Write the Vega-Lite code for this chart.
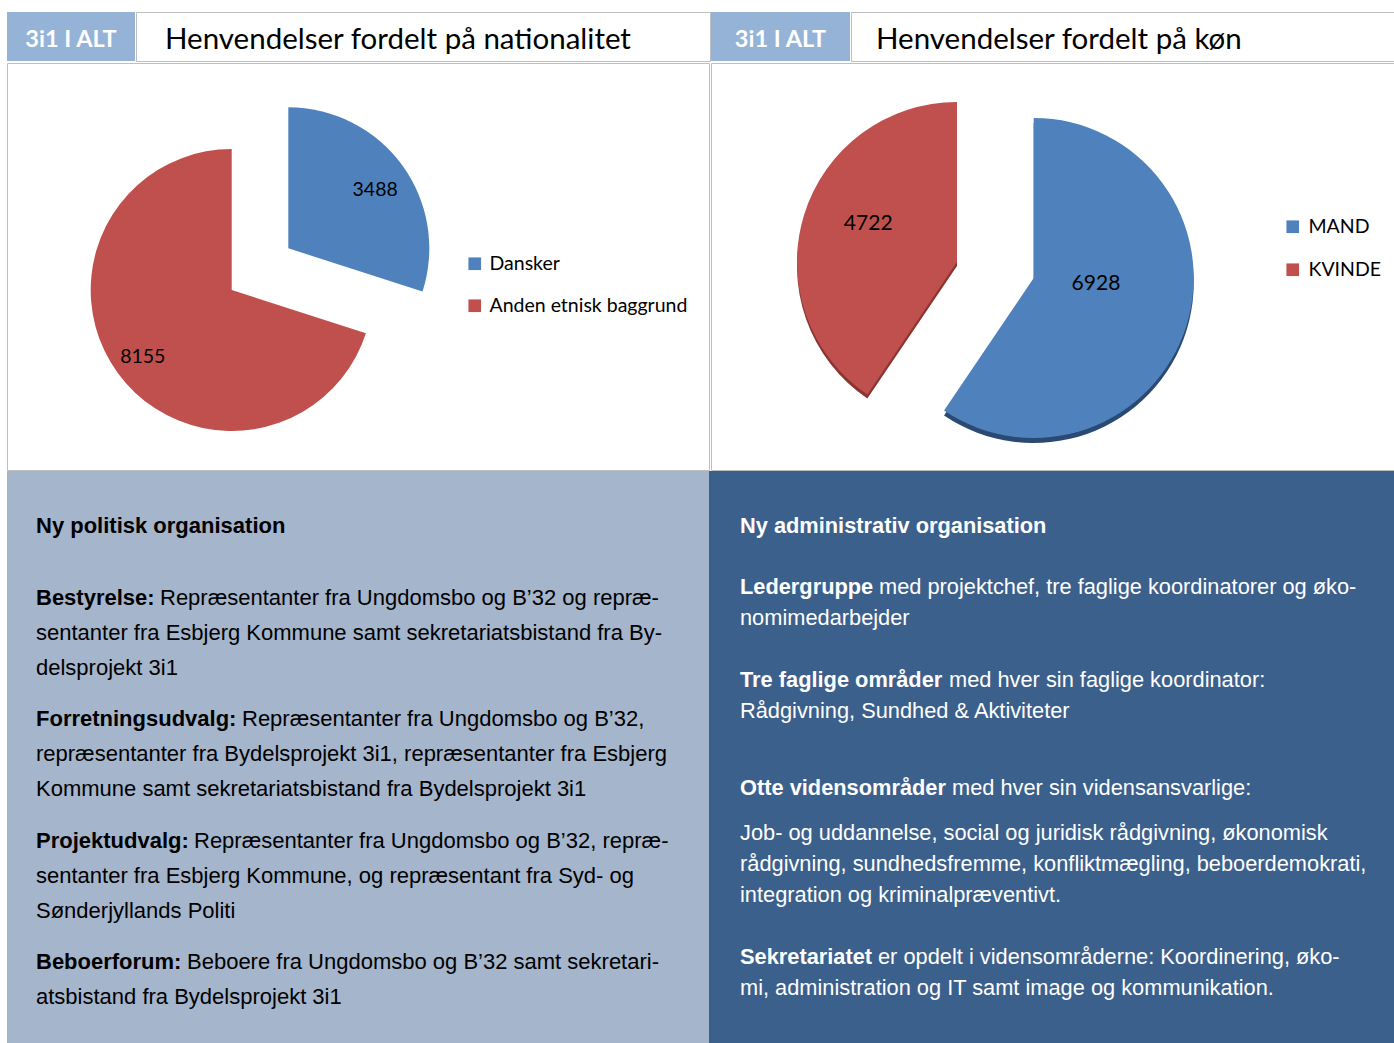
{
  "$schema": "https://vega.github.io/schema/vega-lite/v6.json",
  "background": "white",
  "padding": {"left": 6, "top": 11, "right": 0, "bottom": 0},
  "spacing": 0,
  "config": {"view": {"stroke": null}, "font": "Lato", "concat": {"spacing": 0}},
  "vconcat": [
    {
      "spacing": 0,
      "hconcat": [
        {
          "width": 128, "height": 49,
          "view": {"fill": "#95b3d7", "stroke": null},
          "data": {"values": [{"label": "3i1 I ALT"}]},
          "mark": {"type": "text", "x": 64, "y": 28, "align": "center", "baseline": "middle", "font": "Lato", "fontWeight": "bold", "fontSize": 23.5, "color": "white"},
          "encoding": {"text": {"field": "label"}}
        },
        {
          "width": 574, "height": 49,
          "view": {"fill": "white", "stroke": "#bfbfbf"},
          "data": {"values": [{"title": "Henvendelser fordelt på nationalitet"}]},
          "mark": {"type": "text", "x": 29, "y": 28, "align": "left", "baseline": "middle", "font": "Lato", "fontSize": 29.5, "color": "black"},
          "encoding": {"text": {"field": "title"}}
        },
        {
          "width": 139, "height": 49,
          "view": {"fill": "#95b3d7", "stroke": null},
          "data": {"values": [{"label": "3i1 I ALT"}]},
          "mark": {"type": "text", "x": 69.5, "y": 28, "align": "center", "baseline": "middle", "font": "Lato", "fontWeight": "bold", "fontSize": 23.5, "color": "white"},
          "encoding": {"text": {"field": "label"}}
        },
        {
          "width": 546, "height": 49,
          "view": {"fill": "white", "stroke": "#bfbfbf"},
          "data": {"values": [{"title": "Henvendelser fordelt på køn"}]},
          "mark": {"type": "text", "x": 25, "y": 28, "align": "left", "baseline": "middle", "font": "Lato", "fontSize": 29.5, "color": "black"},
          "encoding": {"text": {"field": "title"}}
        }
      ]
    },
    {
      "spacing": 0,
      "resolve": {"scale": {"color": "independent", "theta": "independent"}, "legend": {"color": "independent"}},
      "hconcat": [
        {
          "width": 702, "height": 407,
          "view": {"fill": "white", "stroke": "#bfbfbf"},
          "data": {"values": [
            {"gruppe": "Dansker", "antal": 3488},
            {"gruppe": "Anden etnisk baggrund", "antal": 8155}
          ]},
          "encoding": {
            "theta": {"field": "antal", "type": "quantitative", "stack": true},
            "order": {"field": "gruppe", "sort": "descending"},
            "color": {
              "field": "gruppe", "type": "nominal",
              "scale": {"domain": ["Dansker", "Anden etnisk baggrund"], "range": ["#4f81bd", "#c0504d"]},
              "legend": {"orient": "none", "legendX": 458, "legendY": 191, "title": null, "symbolType": "square", "symbolSize": 160, "symbolStrokeWidth": 0, "labelFont": "Lato", "labelFontSize": 19.5, "labelColor": "black", "labelOffset": 5, "labelLimit": 400, "rowPadding": 21, "padding": 0}
            }
          },
          "layer": [
            {
              "mark": {"type": "arc", "x": 281.3, "y": 185.3, "radius": 141},
              "encoding": {"opacity": {"condition": {"test": "datum.gruppe === 'Dansker'", "value": 1}, "value": 0}}
            },
            {
              "mark": {"type": "arc", "x": 224.7, "y": 227, "radius": 141},
              "encoding": {"opacity": {"condition": {"test": "datum.gruppe !== 'Dansker'", "value": 1}, "value": 0}}
            },
            {
              "mark": {"type": "text", "x": 281.3, "y": 185.3, "radius": 105, "dx": 2, "dy": 4, "font": "Lato", "fontSize": 19.5, "align": "center", "baseline": "middle"},
              "encoding": {
                "text": {"field": "antal", "type": "quantitative", "format": "d"},
                "color": {"value": "black"},
                "opacity": {"condition": {"test": "datum.gruppe === 'Dansker'", "value": 1}, "value": 0}
              }
            },
            {
              "mark": {"type": "text", "x": 224.7, "y": 227, "radius": 110, "dy": 2, "font": "Lato", "fontSize": 19.5, "align": "center", "baseline": "middle"},
              "encoding": {
                "text": {"field": "antal", "type": "quantitative", "format": "d"},
                "color": {"value": "black"},
                "opacity": {"condition": {"test": "datum.gruppe !== 'Dansker'", "value": 1}, "value": 0}
              }
            }
          ]
        },
        {
          "width": 685, "height": 407,
          "view": {"fill": "white", "stroke": "#bfbfbf"},
          "data": {"values": [
            {"koen": "MAND", "antal": 6928},
            {"koen": "KVINDE", "antal": 4722}
          ]},
          "encoding": {
            "theta": {"field": "antal", "type": "quantitative", "stack": true},
            "order": {"field": "koen", "sort": "descending"},
            "color": {
              "field": "koen", "type": "nominal",
              "scale": {"domain": ["MAND", "KVINDE"], "range": ["#4f81bd", "#c0504d"]},
              "legend": {"orient": "none", "legendX": 572, "legendY": 154, "title": null, "symbolType": "square", "symbolSize": 160, "symbolStrokeWidth": 0, "labelFont": "Lato", "labelFontSize": 19.5, "labelColor": "black", "labelOffset": 6, "labelLimit": 300, "rowPadding": 22, "padding": 0}
            }
          },
          "layer": [
            {
              "mark": {"type": "arc", "x": 322.7, "y": 220, "radius": 160},
              "encoding": {
                "color": {"value": "#2a4a74"},
                "opacity": {"condition": {"test": "datum.koen === 'MAND'", "value": 1}, "value": 0}
              }
            },
            {
              "mark": {"type": "arc", "x": 246, "y": 203, "radius": 160},
              "encoding": {
                "color": {"value": "#8a3532"},
                "opacity": {"condition": {"test": "datum.koen !== 'MAND'", "value": 1}, "value": 0}
              }
            },
            {
              "mark": {"type": "arc", "x": 322.7, "y": 215, "radius": 160},
              "encoding": {"opacity": {"condition": {"test": "datum.koen === 'MAND'", "value": 1}, "value": 0}}
            },
            {
              "mark": {"type": "arc", "x": 246, "y": 199, "radius": 160},
              "encoding": {"opacity": {"condition": {"test": "datum.koen !== 'MAND'", "value": 1}, "value": 0}}
            },
            {
              "mark": {"type": "text", "x": 322.7, "y": 215, "radius": 62, "dx": 3, "dy": -12, "font": "Lato", "fontSize": 21, "align": "center", "baseline": "middle"},
              "encoding": {
                "text": {"field": "antal", "type": "quantitative", "format": "d"},
                "color": {"value": "black"},
                "opacity": {"condition": {"test": "datum.koen === 'MAND'", "value": 1}, "value": 0}
              }
            },
            {
              "mark": {"type": "text", "x": 246, "y": 199, "radius": 96, "dx": 3, "dy": -10, "font": "Lato", "fontSize": 21, "align": "center", "baseline": "middle"},
              "encoding": {
                "text": {"field": "antal", "type": "quantitative", "format": "d"},
                "color": {"value": "black"},
                "opacity": {"condition": {"test": "datum.koen !== 'MAND'", "value": 1}, "value": 0}
              }
            }
          ]
        }
      ]
    },
    {
      "spacing": 0,
      "resolve": {"scale": {"x": "independent", "y": "independent"}},
      "hconcat": [
        {
          "width": 702, "height": 573,
          "view": {"fill": "#a5b5cb", "stroke": null},
          "data": {"values": [
            {"row": 0, "para": 0, "kind": "head", "text": "Ny politisk organisation"},
            {"row": 1, "para": 1, "kind": "lead", "text": "Bestyrelse:"},
            {"row": 1, "para": 1, "kind": "first", "text": "Repræsentanter fra Ungdomsbo og B’32 og repræ-"},
            {"row": 2, "para": 1, "kind": "cont", "text": "sentanter fra Esbjerg Kommune samt sekretariatsbistand fra By-"},
            {"row": 3, "para": 1, "kind": "cont", "text": "delsprojekt 3i1"},
            {"row": 4, "para": 2, "kind": "lead", "text": "Forretningsudvalg:"},
            {"row": 4, "para": 2, "kind": "first", "text": "Repræsentanter fra Ungdomsbo og B’32,"},
            {"row": 5, "para": 2, "kind": "cont", "text": "repræsentanter fra Bydelsprojekt 3i1, repræsentanter fra Esbjerg"},
            {"row": 6, "para": 2, "kind": "cont", "text": "Kommune samt sekretariatsbistand fra Bydelsprojekt 3i1"},
            {"row": 7, "para": 3, "kind": "lead", "text": "Projektudvalg:"},
            {"row": 7, "para": 3, "kind": "first", "text": "Repræsentanter fra Ungdomsbo og B’32, repræ-"},
            {"row": 8, "para": 3, "kind": "cont", "text": "sentanter fra Esbjerg Kommune, og repræsentant fra Syd- og"},
            {"row": 9, "para": 3, "kind": "cont", "text": "Sønderjyllands Politi"},
            {"row": 10, "para": 4, "kind": "lead", "text": "Beboerforum:"},
            {"row": 10, "para": 4, "kind": "first", "text": "Beboere fra Ungdomsbo og B’32 samt sekretari-"},
            {"row": 11, "para": 4, "kind": "cont", "text": "atsbistand fra Bydelsprojekt 3i1"}
          ]},
          "encoding": {
            "y": {"field": "row", "type": "quantitative", "axis": null,
                  "scale": {"domain": [0, 1, 2, 3, 4, 5, 6, 7, 8, 9, 10, 11], "range": [55, 127, 162, 197, 248, 283, 318, 370, 405, 440, 491, 526], "nice": false, "zero": false}}
          },
          "layer": [
            {
              "transform": [{"filter": "datum.kind === 'head' || datum.kind === 'lead'"}],
              "mark": {"type": "text", "x": 29, "align": "left", "baseline": "middle", "font": "Liberation Sans", "fontWeight": "bold", "fontSize": 22, "color": "#000000"},
              "encoding": {"text": {"field": "text"}}
            },
            {
              "transform": [{"filter": "datum.kind === 'first'"}],
              "mark": {"type": "text", "align": "left", "baseline": "middle", "font": "Liberation Sans", "fontSize": 22, "color": "#000000"},
              "encoding": {
                "x": {"field": "para", "type": "quantitative", "axis": null, "scale": {"domain": [1, 2, 3, 4], "range": [153, 235, 187, 180], "nice": false, "zero": false}},
                "text": {"field": "text"}
              }
            },
            {
              "transform": [{"filter": "datum.kind === 'cont'"}],
              "mark": {"type": "text", "x": 29, "align": "left", "baseline": "middle", "font": "Liberation Sans", "fontSize": 22, "color": "#000000"},
              "encoding": {"text": {"field": "text"}}
            }
          ]
        },
        {
          "width": 685, "height": 573,
          "view": {"fill": "#3c608c", "stroke": null},
          "data": {"values": [
            {"row": 0, "para": 0, "kind": "head", "text": "Ny administrativ organisation"},
            {"row": 1, "para": 1, "kind": "lead", "text": "Ledergruppe"},
            {"row": 1, "para": 1, "kind": "first", "text": "med projektchef, tre faglige koordinatorer og øko-"},
            {"row": 2, "para": 1, "kind": "cont", "text": "nomimedarbejder"},
            {"row": 3, "para": 2, "kind": "lead", "text": "Tre faglige områder"},
            {"row": 3, "para": 2, "kind": "first", "text": "med hver sin faglige koordinator:"},
            {"row": 4, "para": 2, "kind": "cont", "text": "Rådgivning, Sundhed & Aktiviteter"},
            {"row": 5, "para": 3, "kind": "lead", "text": "Otte vidensområder"},
            {"row": 5, "para": 3, "kind": "first", "text": "med hver sin vidensansvarlige:"},
            {"row": 6, "para": 3, "kind": "cont", "text": "Job- og uddannelse, social og juridisk rådgivning, økonomisk"},
            {"row": 7, "para": 3, "kind": "cont", "text": "rådgivning, sundhedsfremme, konfliktmægling, beboerdemokrati,"},
            {"row": 8, "para": 3, "kind": "cont", "text": "integration og kriminalpræventivt."},
            {"row": 9, "para": 4, "kind": "lead", "text": "Sekretariatet"},
            {"row": 9, "para": 4, "kind": "first", "text": "er opdelt i vidensområderne: Koordinering, øko-"},
            {"row": 10, "para": 4, "kind": "cont", "text": "mi, administration og IT samt image og kommunikation."}
          ]},
          "encoding": {
            "y": {"field": "row", "type": "quantitative", "axis": null,
                  "scale": {"domain": [0, 1, 2, 3, 4, 5, 6, 7, 8, 9, 10], "range": [55, 116, 147, 209, 240, 317, 362, 393, 424, 486, 517], "nice": false, "zero": false}}
          },
          "layer": [
            {
              "transform": [{"filter": "datum.kind === 'head' || datum.kind === 'lead'"}],
              "mark": {"type": "text", "x": 31, "align": "left", "baseline": "middle", "font": "Liberation Sans", "fontWeight": "bold", "fontSize": 21.8, "color": "#ffffff"},
              "encoding": {"text": {"field": "text"}}
            },
            {
              "transform": [{"filter": "datum.kind === 'first'"}],
              "mark": {"type": "text", "align": "left", "baseline": "middle", "font": "Liberation Sans", "fontSize": 21.8, "color": "#ffffff"},
              "encoding": {
                "x": {"field": "para", "type": "quantitative", "axis": null, "scale": {"domain": [1, 2, 3, 4], "range": [170, 240, 243, 169], "nice": false, "zero": false}},
                "text": {"field": "text"}
              }
            },
            {
              "transform": [{"filter": "datum.kind === 'cont'"}],
              "mark": {"type": "text", "x": 31, "align": "left", "baseline": "middle", "font": "Liberation Sans", "fontSize": 21.8, "color": "#ffffff"},
              "encoding": {"text": {"field": "text"}}
            }
          ]
        }
      ]
    }
  ]
}
